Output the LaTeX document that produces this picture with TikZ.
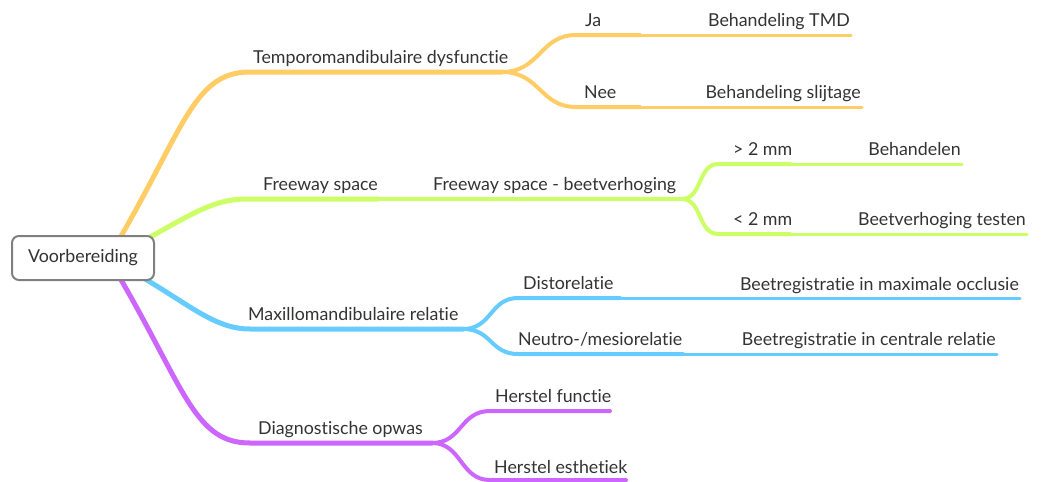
\documentclass[tikz,border=0pt]{standalone}
\usepackage{fontspec}
\setmainfont{Lato}[RawFeature={-liga;-dlig;-clig}]
\definecolor{cOr}{HTML}{FFCC66}
\definecolor{cGr}{HTML}{CCFF66}
\definecolor{cBl}{HTML}{66CCFF}
\definecolor{cPu}{HTML}{CC66FF}
\definecolor{txt}{HTML}{333333}
\definecolor{rootline}{HTML}{808080}
\tikzset{
  br1/.style={line width=5pt, line cap=round, line join=round},
  br2/.style={line width=4pt, line cap=round, line join=round},
  br3/.style={line width=3pt, line cap=round},
  lbl/.style={inner sep=0pt, text=txt, font=\fontsize{17.8}{21}\selectfont},
  rootbox/.style={draw=rootline, line width=2pt, fill=white, rounded corners=7pt,
    minimum width=142pt, minimum height=44pt, inner sep=0pt, text=txt,
    font=\fontsize{17.8}{21}\selectfont}
}
\begin{document}
\begin{tikzpicture}[x=1pt,y=-1pt]
\useasboundingbox (0,0) rectangle (1042,482);

% ---------- coordinates ----------
% orange
\coordinate (o0) at (120,238);
\coordinate (o1) at (250,72);
\coordinate (o2) at (502,72);
\coordinate (oa1) at (576,35);
\coordinate (oa2) at (640,35);
\coordinate (oa3) at (851,35);
\coordinate (ob1) at (576,107);
\coordinate (ob2) at (640,107);
\coordinate (ob3) at (862,107);
% green
\coordinate (g0) at (145,240);
\coordinate (g1) at (247,199);
\coordinate (g2) at (378,199);
\coordinate (g3) at (682,199);
\coordinate (ga1) at (718,164);
\coordinate (ga2) at (790,164);
\coordinate (ga3) at (962,164);
\coordinate (gb1) at (718,234);
\coordinate (gb2) at (790,234);
\coordinate (gb3) at (1027,234);
% blue
\coordinate (b0) at (140,276);
\coordinate (b1) at (250,329);
\coordinate (b2) at (463,329);
\coordinate (ba1) at (518,298);
\coordinate (ba2) at (620,298);
\coordinate (ba3) at (1020,298);
\coordinate (bb1) at (518,354);
\coordinate (bb2) at (683,354);
\coordinate (bb3) at (997,354);
% purple
\coordinate (p0) at (120,278);
\coordinate (p1) at (250,443);
\coordinate (p2) at (432,443);
\coordinate (pa1) at (490,411);
\coordinate (pa2) at (610,411);
\coordinate (pb1) at (490,480);
\coordinate (pb2) at (626,480);

% ---------- branches ----------
\draw[br1, cOr] (o0) .. controls (185,125) and (195,72) .. (o1) -- (o2);
\draw[br2, cOr] (o2) .. controls (540,72) and (540,35) .. (oa1) -- (oa2);
\draw[br3, cOr] (oa2) -- (oa3);
\draw[br2, cOr] (o2) .. controls (540,72) and (540,107) .. (ob1) -- (ob2);
\draw[br3, cOr] (ob2) -- (ob3);

\draw[br1, cGr] (g0) .. controls (195,212) and (215,199) .. (g1) -- (g2);
\draw[br2, cGr] (g2) -- (g3);
\draw[br2, cGr] (g3) .. controls (702,199) and (698,164) .. (ga1) -- (ga2);
\draw[br3, cGr] (ga2) -- (ga3);
\draw[br2, cGr] (g3) .. controls (702,199) and (698,234) .. (gb1) -- (gb2);
\draw[br3, cGr] (gb2) -- (gb3);

\draw[br1, cBl] (b0) .. controls (190,305) and (215,329) .. (b1) -- (b2);
\draw[br2, cBl] (b2) .. controls (492,329) and (490,298) .. (ba1) -- (ba2);
\draw[br3, cBl] (ba2) -- (ba3);
\draw[br2, cBl] (b2) .. controls (492,329) and (490,354) .. (bb1) -- (bb2);
\draw[br3, cBl] (bb2) -- (bb3);

\draw[br1, cPu] (p0) .. controls (185,390) and (195,443) .. (p1) -- (p2);
\draw[br2, cPu] (p2) .. controls (462,443) and (460,411) .. (pa1) -- (pa2);
\draw[br2, cPu] (p2) .. controls (462,443) and (460,480) .. (pb1) -- (pb2);

% ---------- root ----------
\node[rootbox] (root) at (83,258) {Voorbereiding};

% ---------- labels ----------
\node[lbl, anchor=base west] (tmd) at (253,63) {Temporomandibulaire dysfunctie};
\node[lbl, anchor=base west] (ja) at (585,26) {Ja};
\node[lbl, anchor=base east] (btmd) at (850,26) {Behandeling TMD};
\node[lbl, anchor=base west] (nee) at (584,98) {Nee};
\node[lbl, anchor=base east] (bsl) at (861,98) {Behandeling slijtage};

\node[lbl, anchor=base west] (fs) at (263,190) {Freeway space};
\node[lbl, anchor=base west] (fsb) at (433,190) {Freeway space - beetverhoging};
\node[lbl, anchor=base west] (gt) at (733,155) {> 2 mm};
\node[lbl, anchor=base east] (beh) at (961,155) {Behandelen};
\node[lbl, anchor=base west] (lt) at (733,225) {< 2 mm};
\node[lbl, anchor=base east] (bvt) at (1026,225) {Beetverhoging testen};

\node[lbl, anchor=base west] (mmr) at (248,320) {Maxillomandibulaire relatie};
\node[lbl, anchor=base west] (dis) at (523,289) {Distorelatie};
\node[lbl, anchor=base east] (bmo) at (1019,290) {Beetregistratie in maximale occlusie};
\node[lbl, anchor=base west] (neu) at (518,345) {Neutro-/mesiorelatie};
\node[lbl, anchor=base east] (bcr) at (996,345) {Beetregistratie in centrale relatie};

\node[lbl, anchor=base west] (dop) at (258,434) {Diagnostische opwas};
\node[lbl, anchor=base west] (hf) at (495,402) {Herstel functie};
\node[lbl, anchor=base west] (he) at (494,473) {Herstel esthetiek};
\end{tikzpicture}
\end{document}
